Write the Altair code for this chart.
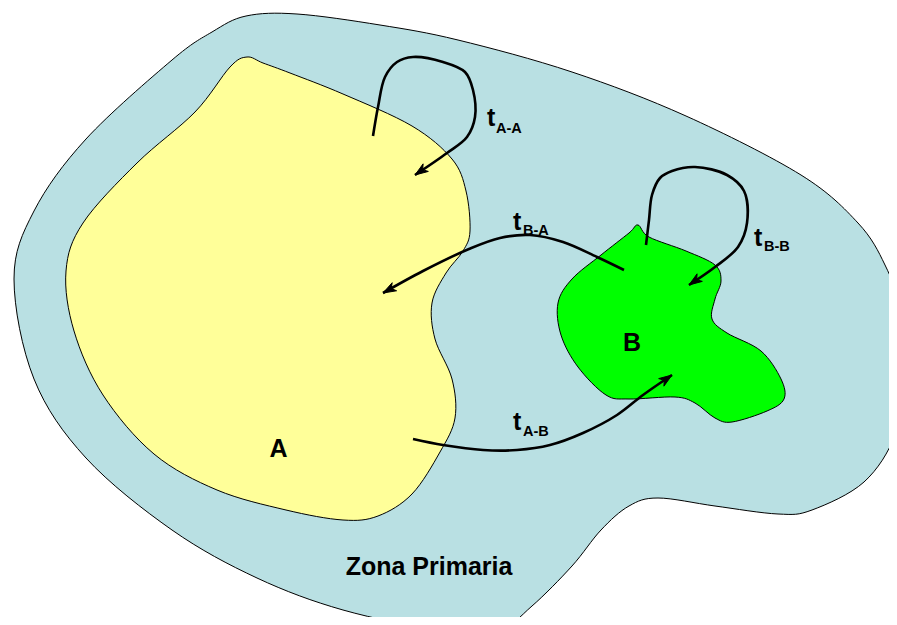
import math
import altair as alt
import pandas as pd

# ---- shape outlines (image pixel coordinates) ----
zone_x = [212, 246, 297, 380, 458, 572, 686, 801, 858, 885, 900, 902, 895, 864, 812, 778, 715, 658, 629, 601, 572, 532, 498, 440, 343, 257, 172, 86, 34, 14, 34, 86, 172]
zone_y = [32, 16, 14, 25, 40, 72, 116, 175, 223, 265, 310, 380, 435, 482, 510, 514, 506, 498, 506, 530, 566, 606, 630, 630, 610, 578, 530, 458, 379, 279, 211, 139, 60]

a_x = [247, 263, 290, 343, 412, 452, 466, 470, 463, 446, 432, 435, 452, 455, 440, 412, 378, 343, 286, 217, 154, 103, 74, 66, 83, 137, 195, 230]
a_y = [57, 63, 73, 94, 126, 159, 191, 231, 251, 273, 303, 339, 379, 418, 452, 494, 516, 520, 510, 490, 454, 395, 331, 271, 223, 163, 112, 67]

b_x = [638, 649, 686, 715, 721, 715, 712, 727, 761, 781, 784, 767, 732, 715, 695, 675, 629, 606, 578, 561, 558, 572, 601, 629]
b_y = [225, 237, 251, 265, 281, 299, 319, 333, 351, 379, 399, 411, 422, 418, 403, 397, 399, 395, 367, 335, 303, 279, 255, 233]

# ---- arrows ----
arrow_aa_x = [373, 378, 385, 397, 413, 443, 465, 473, 475, 467, 447, 415]
arrow_aa_y = [136, 107, 77, 62, 57, 62, 72, 90, 117, 137, 153, 175]
arrow_bb_x = [646, 649, 652, 660, 672, 695, 727, 744, 747, 738, 715, 689]
arrow_bb_y = [245, 220, 195, 178, 171, 167, 175, 191, 223, 247, 267, 285]
arrow_ba_x = [624, 597, 563, 530, 500, 469, 423, 383]
arrow_ba_y = [270, 257, 242, 235, 238, 249, 271, 293]
arrow_ab_x = [413, 443, 483, 517, 550, 583, 617, 643, 672]
arrow_ab_y = [439, 445, 450, 450, 445, 433, 415, 395, 375]

# ---- labels ----
t_x = [487, 513, 754, 513]
t_y = [126, 230, 246, 430]
sub_text = ["A-A", "B-A", "B-B", "A-B"]
sub_x = [496, 523, 764, 523]
sub_y = [133, 235, 251, 436]
big_text = ["A", "B", "Zona Primaria"]
big_x = [278.5, 632, 429]
big_y = [457, 351, 575]

W, H = 881, 609
xs = alt.Scale(domain=[8, 8 + W], nice=False, zero=False)
ys = alt.Scale(domain=[8, 8 + H], nice=False, zero=False, reverse=True)
X = lambda f="x": alt.X(f"{f}:Q", scale=xs, axis=None)
Y = lambda f="y": alt.Y(f"{f}:Q", scale=ys, axis=None)


def poly(xv, yv, fill):
    df = pd.DataFrame({"x": xv, "y": yv, "i": range(len(xv))})
    return alt.Chart(df).mark_line(
        interpolate="cardinal-closed", fill=fill, stroke="black", strokeWidth=1
    ).encode(x=X(), y=Y(), order="i:Q")


arrows = [(arrow_aa_x, arrow_aa_y), (arrow_bb_x, arrow_bb_y),
          (arrow_ba_x, arrow_ba_y), (arrow_ab_x, arrow_ab_y)]
rows, heads = [], []
L, HW = 13.0, 4.6
for k, (ax, ay) in enumerate(arrows):
    for i, (px, py) in enumerate(zip(ax, ay)):
        rows.append({"arrow": k, "i": i, "x": px, "y": py})
    dx, dy = ax[-1] - ax[-2], ay[-1] - ay[-2]
    d = math.hypot(dx, dy)
    ux, uy = dx / d, dy / d
    nx, ny = -uy, ux
    tx, ty = ax[-1], ay[-1]
    pts = [
        (tx, ty),
        (tx - L * ux + HW * nx, ty - L * uy + HW * ny),
        (tx - 0.72 * L * ux, ty - 0.72 * L * uy),
        (tx - L * ux - HW * nx, ty - L * uy - HW * ny),
    ]
    for j, (px, py) in enumerate(pts):
        heads.append({"head": k, "i": j, "x": px, "y": py})

arrow_lines = alt.Chart(pd.DataFrame(rows)).mark_line(
    interpolate="catmull-rom", color="black", strokeWidth=2.6
).encode(x=X(), y=Y(), detail="arrow:N", order="i:Q")

arrow_heads = alt.Chart(pd.DataFrame(heads)).mark_line(
    interpolate="linear-closed", fill="black", stroke="black", strokeWidth=1
).encode(x=X(), y=Y(), detail="head:N", order="i:Q")

font = "Liberation Sans"
t_df = pd.DataFrame({"x": t_x, "y": t_y, "s": ["t"] * 4})
sub_df = pd.DataFrame({"x": sub_x, "y": sub_y, "s": sub_text})
big_df = pd.DataFrame({"x": big_x, "y": big_y, "s": big_text})

t_text = alt.Chart(t_df).mark_text(
    font=font, fontWeight="bold", fontSize=25, align="left", baseline="alphabetic", color="black"
).encode(x=X(), y=Y(), text="s:N")
sub_txt = alt.Chart(sub_df).mark_text(
    font=font, fontWeight="bold", fontSize=14.5, align="left", baseline="alphabetic", color="black"
).encode(x=X(), y=Y(), text="s:N")
big_txt = alt.Chart(big_df).mark_text(
    font=font, fontWeight="bold", fontSize=25, align="center", baseline="alphabetic", color="black"
).encode(x=X(), y=Y(), text="s:N")

chart = alt.layer(
    poly(zone_x, zone_y, "#b9e0e3"),
    poly(a_x, a_y, "#ffff99"),
    poly(b_x, b_y, "#00ff00"),
    arrow_lines,
    arrow_heads,
    t_text,
    sub_txt,
    big_txt,
).properties(width=W, height=H, padding=0, autosize="none", background="white"
).configure_view(stroke=None)

chart.save("out.html", embed_options={"renderer": "svg", "actions": False})
